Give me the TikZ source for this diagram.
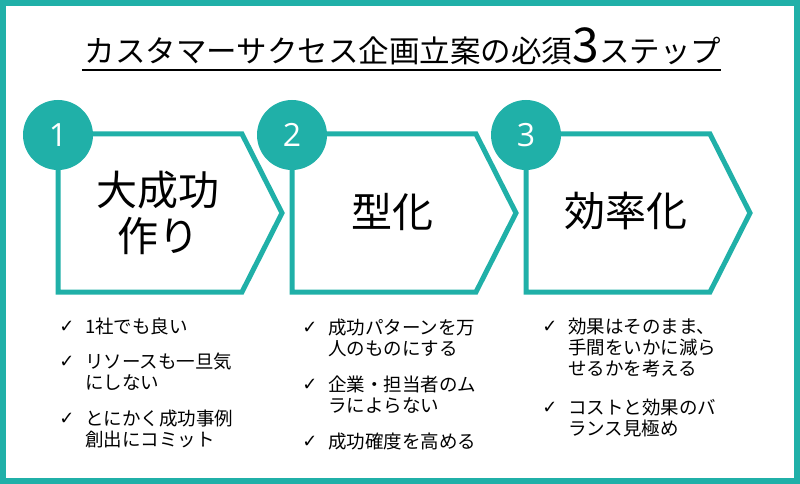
\documentclass[tikz,border=0pt]{standalone}
\usepackage{fontspec}
\setmainfont{Noto Sans CJK JP}
\newfontfamily\numfont{Open Sans}
\newfontfamily\symfont{DejaVu Sans}
\usetikzlibrary{positioning}
\definecolor{csteal}{RGB}{32,176,168}

\begin{document}
\begin{tikzpicture}[
  x=1pt, y=-1pt,
  every node/.style={inner sep=0pt},
  frame/.style={draw=csteal, line width=6pt},
  stepbox/.style={draw=csteal, line width=5pt, fill=white},
  num/.style={circle, fill=csteal, minimum size=70pt, text=white,
    font=\numfont\fontsize{32}{32}\selectfont},
  big/.style={align=center, font=\fontsize{41}{46}\selectfont},
  item/.style={anchor=north west, align=left, font=\fontsize{18.5}{21}\selectfont},
  chk/.style={font=\symfont\fontsize{18}{18}\selectfont}]

  \useasboundingbox (0,0) rectangle (800,484);
  \draw[frame] (3,3) rectangle (797,481);

  % title
  \node[anchor=base, font=\fontsize{30.5}{30.5}\selectfont] (title) at (403,63)
    {カスタマーサクセス企画立案の必須{\fontsize{48}{48}\selectfont 3}ステップ};
  \draw[line width=1.3pt] ([yshift=-7pt,xshift=-3pt]title.base west) -- ([yshift=-7pt]title.base east);

  % steps
  \draw[stepbox] (58,134) -- (242,134) -- (282,213) -- (242,292) -- (58,292) -- cycle;
  \draw[stepbox] (292,134) -- (476,134) -- (516,213) -- (476,292) -- (292,292) -- cycle;
  \draw[stepbox] (526,134) -- (710,134) -- (750,213) -- (710,292) -- (526,292) -- cycle;

  \node[num] (num1) at (58,135) {1};
  \node[num] (num2) at (292,135) {2};
  \node[num] (num3) at (526,135) {3};

  \node[big] (lbl1) at (158,213) {大成功\\作り};
  \node[big] (lbl2) at (392,212) {型化};
  \node[big] (lbl3) at (626,211) {効率化};

  % points, step 1
  \node[item] (i1a) at (85,318) {1社でも良い};
  \node[item] (i1b) at (85,353) {リソースも一旦気\\にしない};
  \node[item] (i1c) at (85,410) {とにかく成功事例\\創出にコミット};
  \node[chk] (k1a) at (67,327) {✓};
  \node[chk] (k1b) at (67,362) {✓};
  \node[chk] (k1c) at (67,419) {✓};

  % points, step 2
  \node[item] (i2a) at (328,319) {成功パターンを万\\人のものにする};
  \node[item] (i2b) at (328,376) {企業・担当者のム\\ラによらない};
  \node[item] (i2c) at (328,433) {成功確度を高める};
  \node[chk] (k2a) at (310,328) {✓};
  \node[chk] (k2b) at (310,385) {✓};
  \node[chk] (k2c) at (310,442) {✓};

  % points, step 3
  \node[item] (i3a) at (568,318) {効果はそのまま、\\手間をいかに減ら\\せるかを考える};
  \node[item] (i3b) at (568,399) {コストと効果のバ\\ランス見極め};
  \node[chk] (k3a) at (550,327) {✓};
  \node[chk] (k3b) at (550,408) {✓};

\end{tikzpicture}
\end{document}
